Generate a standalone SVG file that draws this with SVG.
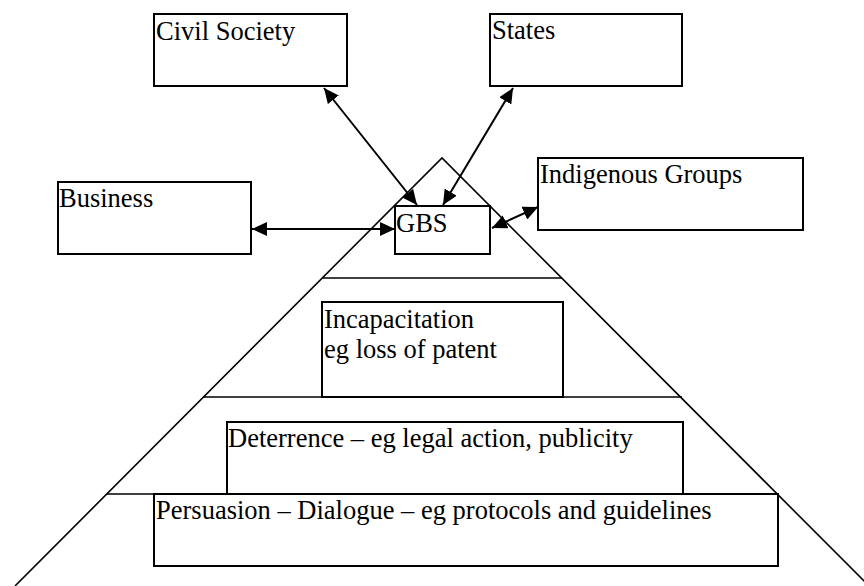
<svg xmlns="http://www.w3.org/2000/svg" width="864" height="586" viewBox="0 0 864 586">
<style>
.box{fill:#fff;stroke:#000;stroke-width:2}
.ln{fill:none;stroke:#000;stroke-width:1.6}
.con{fill:none;stroke:#000;stroke-width:2;marker-start:url(#ah);marker-end:url(#ah)}
text{font-family:'Liberation Serif','Times New Roman',serif;font-size:26.5px;fill:#000}
</style>
<defs>
<marker id="ah" viewBox="0 0 15 14" refX="15" refY="7" markerWidth="15" markerHeight="14" markerUnits="userSpaceOnUse" orient="auto-start-reverse">
<path d="M0,0 L15,7 L0,14 Z" fill="#000"/>
</marker>
</defs>
<g id="pyramid">
<path class="ln" d="M15,586 L442,158 L869,586"/>
<line class="ln" x1="322" y1="278" x2="562" y2="278"/>
<line class="ln" x1="203" y1="397" x2="682" y2="397"/>
<line class="ln" x1="107" y1="494" x2="778" y2="494"/>
</g>
<g id="civil-society"><rect class="box" x="154" y="14" width="193" height="72"/><text x="156" y="40">Civil Society</text></g>
<g id="states"><rect class="box" x="490" y="14" width="192" height="72"/><text x="492" y="39">States</text></g>
<g id="business"><rect class="box" x="58" y="182" width="193" height="72"/><text x="59" y="207">Business</text></g>
<g id="indigenous"><rect class="box" x="538" y="158" width="265" height="72"/><text x="540" y="183">Indigenous Groups</text></g>
<g id="gbs"><rect class="box" x="395" y="206" width="95" height="48"/><text x="396" y="232">GBS</text></g>
<g id="incapacitation"><rect class="box" x="322" y="302" width="241" height="95"/><text x="324" y="328">Incapacitation</text><text x="324" y="358">eg loss of patent</text></g>
<g id="deterrence"><rect class="box" x="227" y="422" width="456" height="72"/><text x="228" y="447">Deterrence – eg legal action, publicity</text></g>
<g id="persuasion"><rect class="box" x="154" y="494" width="624" height="72"/><text x="156" y="519">Persuasion – Dialogue – eg protocols and guidelines</text></g>
<g id="connectors">
<line class="con" x1="324" y1="88" x2="417" y2="205"/>
<line class="con" x1="513" y1="88" x2="443" y2="205"/>
<line class="con" x1="252" y1="229" x2="395" y2="229"/>
<line class="con" x1="492" y1="228" x2="538" y2="207"/>
</g>
</svg>
